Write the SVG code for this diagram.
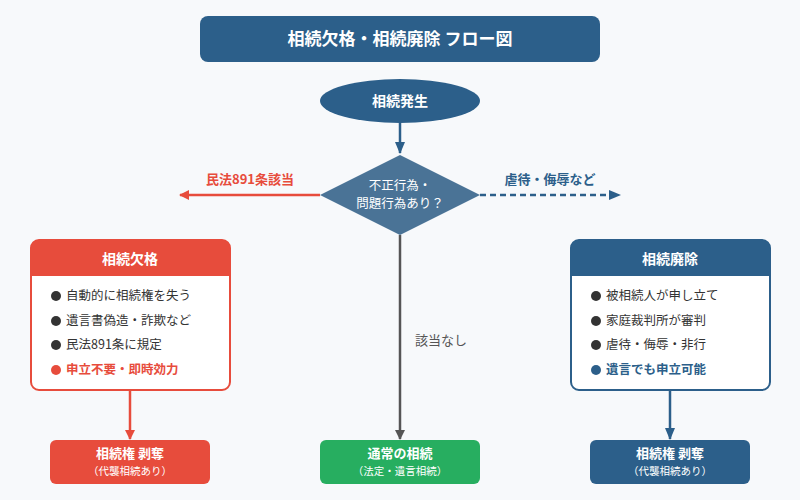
<svg xmlns="http://www.w3.org/2000/svg" width="800" height="500" viewBox="0 0 800 500">
<style>
text{font-family:"Noto Sans CJK JP","Noto Sans",sans-serif;text-anchor:middle}
.w{fill:#fff}.b{font-weight:bold}
.it{text-anchor:start;font-size:12.5px;fill:#333}
</style>
<defs>
<marker id="ar" markerWidth="10" markerHeight="10" refX="9" refY="5" orient="auto" markerUnits="userSpaceOnUse"><path d="M0,0L10,5L0,10z" fill="#e74c3c"/></marker>
<marker id="ab" markerWidth="12" markerHeight="10" refX="11" refY="5" orient="auto" markerUnits="userSpaceOnUse"><path d="M0,0L12,5L0,10z" fill="#2c5f8a"/></marker>
<marker id="ag" markerWidth="10" markerHeight="12" refX="9" refY="5" orient="auto" markerUnits="userSpaceOnUse"><path d="M0,0L10,5L0,10z" fill="#555"/></marker>
</defs>
<rect width="800" height="500" fill="#f7f9fb"/>
<g id="connectors" fill="none" stroke-width="2.5">
<line x1="400" y1="123" x2="400" y2="153" stroke="#2c5f8a" marker-end="url(#ab)"/>
<line x1="320" y1="195" x2="180" y2="195" stroke="#e74c3c" marker-end="url(#ar)"/>
<line x1="480" y1="195" x2="620" y2="195" stroke="#2c5f8a" stroke-dasharray="6,4" marker-end="url(#ab)"/>
<line x1="400" y1="235" x2="400" y2="439" stroke="#555" marker-end="url(#ag)"/>
<line x1="130" y1="390" x2="130" y2="439" stroke="#e74c3c" marker-end="url(#ar)"/>
<line x1="670" y1="390" x2="670" y2="439" stroke="#2c5f8a" marker-end="url(#ab)"/>
<text x="250" y="184" font-size="13" class="b" fill="#e74c3c">民法891条該当</text>
<text x="550" y="184" font-size="13" class="b" fill="#2c5f8a">虐待・侮辱など</text>
<text x="441" y="345" font-size="13" fill="#555" stroke="none">該当なし</text>
</g>
<g id="title"><rect x="200" y="16" width="400" height="46" rx="8" fill="#2c5f8a"/><text x="400" y="45" font-size="17" class="w b">相続欠格・相続廃除 フロー図</text></g>
<g id="start"><ellipse cx="400" cy="101" rx="80" ry="22" fill="#2c5f8a"/><text x="400" y="106" font-size="14" class="w b">相続発生</text></g>
<g id="decision"><polygon points="400,155 480,195 400,235 320,195" fill="#4a7396"/><text x="400" y="190" font-size="12.5" class="w">不正行為・</text><text x="400" y="208" font-size="12.5" class="w">問題行為あり？</text></g>
<g id="kekkaku"><rect x="31" y="240" width="199" height="150" rx="8" fill="#fff" stroke="#e74c3c" stroke-width="2"/><path d="M31,276V248a8,8 0 0 1 8,-8H222a8,8 0 0 1 8,8V276z" fill="#e74c3c"/><text x="130" y="264" font-size="14" class="w b">相続欠格</text>
<circle cx="56" cy="296" r="5" fill="#333"/><text x="66" y="300" class="it">自動的に相続権を失う</text>
<circle cx="56" cy="321" r="5" fill="#333"/><text x="66" y="325" class="it">遺言書偽造・詐欺など</text>
<circle cx="56" cy="345" r="5" fill="#333"/><text x="66" y="349" class="it">民法891条に規定</text>
<circle cx="56" cy="370" r="5" fill="#e74c3c"/><text x="66" y="374" class="it b" style="fill:#e74c3c">申立不要・即時効力</text></g>
<g id="haijo"><rect x="571" y="240" width="199" height="150" rx="8" fill="#fff" stroke="#2c5f8a" stroke-width="2"/><path d="M571,276V248a8,8 0 0 1 8,-8H762a8,8 0 0 1 8,8V276z" fill="#2c5f8a"/><text x="670" y="264" font-size="14" class="w b">相続廃除</text>
<circle cx="596" cy="296" r="5" fill="#333"/><text x="606" y="300" class="it">被相続人が申し立て</text>
<circle cx="596" cy="321" r="5" fill="#333"/><text x="606" y="325" class="it">家庭裁判所が審判</text>
<circle cx="596" cy="345" r="5" fill="#333"/><text x="606" y="349" class="it">虐待・侮辱・非行</text>
<circle cx="596" cy="370" r="5" fill="#2c5f8a"/><text x="606" y="374" class="it b" style="fill:#2c5f8a">遺言でも申立可能</text></g>
<g id="res1"><rect x="50" y="440" width="160" height="44" rx="6" fill="#e74c3c"/><text x="130" y="458" font-size="13" class="w b">相続権 剥奪</text><text x="130" y="475" font-size="10.5" class="w">（代襲相続あり）</text></g>
<g id="res2"><rect x="320" y="440" width="160" height="44" rx="6" fill="#27ae60"/><text x="400" y="458" font-size="13" class="w b">通常の相続</text><text x="400" y="475" font-size="10.5" class="w">（法定・遺言相続）</text></g>
<g id="res3"><rect x="590" y="440" width="160" height="44" rx="6" fill="#2c5f8a"/><text x="670" y="458" font-size="13" class="w b">相続権 剥奪</text><text x="670" y="475" font-size="10.5" class="w">（代襲相続あり）</text></g>
</svg>
